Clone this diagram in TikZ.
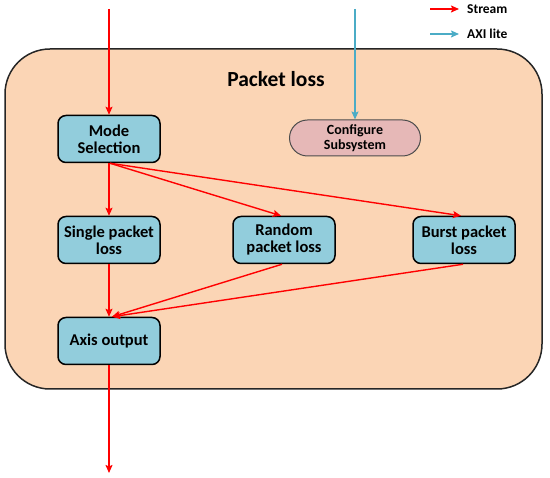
\documentclass[tikz,border=0pt]{standalone}
\usepackage{fontspec}
\setmainfont{Carlito}
\usetikzlibrary{arrows.meta,shapes.misc}
\definecolor{peach}{HTML}{FBD5B5}
\definecolor{boxblue}{HTML}{92CDDC}
\definecolor{cfgpink}{HTML}{E6B8B7}
\definecolor{axiblue}{HTML}{4BACC6}
\definecolor{strred}{HTML}{FF0000}
\tikzset{
  blk/.style={draw=black, line width=1.5pt, fill=boxblue, rounded corners=8pt,
    minimum width=102pt, minimum height=47pt, align=center, inner sep=1pt,
    font=\fontsize{16.5}{17}\selectfont\bfseries},
  cfg/.style={draw=black!70, line width=1pt, fill=cfgpink, rounded rectangle,
    minimum width=133pt, minimum height=36pt, align=center, inner sep=1pt,
    font=\fontsize{14}{15}\selectfont\bfseries},
  strm/.style={draw=strred, line width=1.4pt, -{Stealth[length=8pt,width=7pt,inset=1.5pt]}},
  axil/.style={draw=axiblue, line width=1.4pt, -{Stealth[length=8pt,width=7pt,inset=1.5pt]}},
  leg/.style={anchor=west, inner sep=0pt, font=\fontsize{13.5}{15}\selectfont\bfseries},
}
\begin{document}
\begin{tikzpicture}[x=1pt,y=-1pt]
\useasboundingbox (0,0) rectangle (550,478);
% container
\node[draw=black!85, line width=1.5pt, fill=peach, rounded corners=45pt,
  minimum width=537pt, minimum height=340pt, inner sep=0pt] (frame) at (273.5,219) {};
\node[font=\fontsize{21.5}{23}\selectfont\bfseries] (title) at (276,79) {Packet loss};
% blocks
\node[blk] (mode) at (109,139) {Mode\\Selection};
\node[cfg] (conf) at (355,138) {Configure\\Subsystem};
\node[blk] (single) at (109,240) {Single packet\\loss};
\node[blk] (random) at (284,240) {Random\\packet loss};
\node[blk] (burst) at (464,240) {Burst packet\\loss};
\node[blk] (axis) at (109,341) {Axis output};
% free ends
\coordinate (inS) at (109,9);
\coordinate (inA) at (355,9);
\coordinate (outS) at (109,473);
% connectors
\draw[strm] (inS) -- (mode.north);
\draw[axil] (inA) -- (conf.north);
\draw[strm] (mode.south) -- (single.north);
\draw[strm] ([xshift=1pt]mode.south) -- ([xshift=-3pt]random.north);
\draw[strm] ([xshift=1pt]mode.south) -- ([xshift=-3pt]burst.north);
\draw[strm] (single.south) -- (axis.north);
\draw[strm] ([xshift=-2pt]random.south) -- ([xshift=3pt]axis.north);
\draw[strm] ([xshift=-1pt]burst.south) -- ([xshift=3pt]axis.north);
\draw[strm] (axis.south) -- (outS);
% legend
\coordinate (l1a) at (430,9);
\coordinate (l1b) at (459,9);
\coordinate (l2a) at (430,34);
\coordinate (l2b) at (459,34);
\draw[strm] (l1a) -- (l1b);
\draw[axil] (l2a) -- (l2b);
\node[leg] (lt1) at (467,9) {Stream};
\node[leg] (lt2) at (467,34) {AXI lite};
\end{tikzpicture}
\end{document}
